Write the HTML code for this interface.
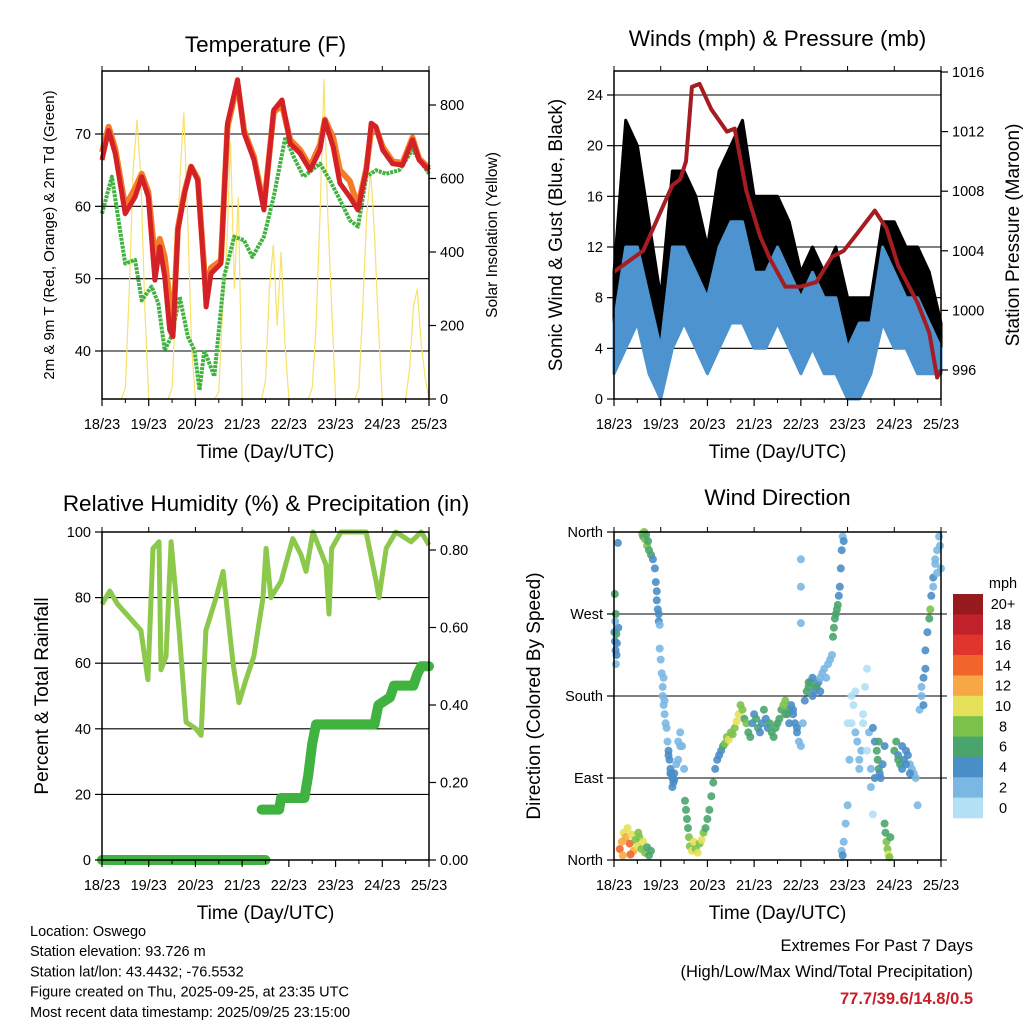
<!DOCTYPE html>
<html><head><meta charset="utf-8"><style>
body{margin:0;background:#fff;}
svg{display:block;font-family:"Liberation Sans",Arial,sans-serif;}
</style></head><body>
<svg id="chart" width="1024" height="1024" viewBox="0 0 1024 1024" xmlns="http://www.w3.org/2000/svg"></svg>
<script>
// ===== DATA =====
const dayLabels = ["18/23","19/23","20/23","21/23","22/23","23/23","24/23","25/23"];
// Temperature (hours since start, degF)
const tempH = [0,3.4,6.8,11.9,17,20.4,23.8,27.2,29.7,32.2,34.8,36.5,39,42.4,45.8,49.2,52.6,53.5,56,61.1,64.5,69.6,73,78.1,83.2,88.2,92.5,96.7,101.8,106.9,112,114.5,118.8,122.2,127.3,131.5,135.8,138.3,140.8,144.2,149.3,154.4,159.5,162.9,168];
const temp2m = [66.4,70.5,67.3,59,61.3,64.1,61.3,49.8,54.4,50.3,42.9,42,56.7,61.8,65.5,63.6,50.3,46.1,50.7,52.1,71.5,77.5,70.1,66.4,59.5,73.3,74.7,68.7,67.3,65,67.8,71.9,68.2,63.2,61.3,59.5,65,71.5,71,67.8,65.9,65.7,69.2,66.4,65];
const temp9m = [67.5,71,68,60,62.5,64.5,62,53,55.5,53,47,43,57,62,65.5,63.8,51,47.5,51.5,52.5,71,77,70.5,66.8,60,73,74,69.2,67.8,65.5,68.5,72,69.5,65,63.5,60,65.2,70.5,70.8,68.2,66.2,66,69.5,66.6,65.3];
const dewH = [0,5.1,8.5,11.9,17,20.4,25.5,28.9,32.2,35.6,39.9,44.1,47.5,50.1,52.6,57.7,62.8,67.9,73,77.2,83.2,88.2,94.2,98.4,103.5,112,117.1,122.2,127.3,131.5,135.8,140.8,145.9,152.7,159.5,168];
const dewpt = [59,64.1,58.1,52.1,52.6,47,48.9,46.6,40.1,42,47.5,42,40.1,34.6,40.1,36.5,50.3,55.8,55.3,53,55.8,61.3,69.6,66.9,64.1,65.9,63.6,60.9,58.1,57.2,64.1,65,64.5,65,67.8,64.5];
const solarH = [];for(let i=0;i<=84;i++)solarH.push(i*2);
const solar = [0,0,0,0,0,0,30,300,620,760,600,250,
 0,0,0,0,0,0,30,280,600,780,500,150,
 0,0,0,0,0,0,20,250,400,700,300,550,
 0,0,0,0,0,0,50,300,420,200,400,150,
 0,0,0,0,0,0,30,200,500,870,500,250,
 0,0,0,0,0,0,30,250,500,620,450,200,
 0,0,0,0,0,0,0,80,250,300,150,60,0];
// Winds (mph)
const windH = [0,6,12,18,24,30,36,42,48,54,60,66,72,78,84,90,96,102,108,114,120,126,132,138,144,150,156,162,168];
const windLo = [2,4,6,2,0,4,6,4,2,4,6,6,4,4,6,4,2,4,2,2,0,0,2,6,4,4,2,2,2];
const windHi = [6,12,12,8,4,12,12,10,8,12,14,14,10,10,12,10,8,10,8,8,4,6,6,12,10,8,8,6,4];
const gustLo = [4,10,12,6,2,10,10,8,6,10,12,12,8,8,10,8,4,6,4,4,2,2,4,8,8,6,6,4,4];
const gustHi = [10,22,20,14,8,18,18,16,12,18,20,22,16,16,16,14,10,12,10,12,8,8,8,14,14,12,12,10,6];
// Pressure (mb)
const presH = [0,15,30,34,37,40,44,50,58,62,68,75,80,88,96,104,112,118,124,134,140,146,156,162,166,168];
const pres = [1002.6,1004,1008.4,1008.8,1010,1015,1015.2,1013.5,1012,1012.2,1008,1005,1003.5,1001.6,1001.6,1001.9,1003.6,1004,1005,1006.7,1005.5,1003,1000.5,998.5,995.5,996];
// Relative humidity (%)
const rhH = [0,4,8,14,20,23.6,26.2,29.3,30.3,32.9,35.5,39.6,43.2,48.3,50.9,53.4,58.6,62.2,67.3,70.4,74,78,82.7,84.3,86.8,92,98,102.3,104.8,108.4,115.1,116.6,118,122.8,135.7,140.8,142.3,146,151,158.8,164,168];
const rh = [78,82,78,74,70,55,95,97,58,62,97,70,42,40,38,70,80,88,60,48,55,62,80,95,80,85,98,93,88,100,90,75,95,100,100,85,80,95,100,97,100,96];
// Precipitation (in, cumulative); null breaks the line
const precipH = [0,84,null,82,91,92,104,106,108,110,140,142,148,150,160,162,164,168];
const precip = [0,0,null,0.13,0.13,0.16,0.16,0.22,0.30,0.35,0.35,0.40,0.42,0.45,0.45,0.48,0.50,0.50];
// Wind direction (hours, degrees, speed mph)
const dirH = [0.2,0.5,0.8,1.0,1.3,0.4,0.9,1.2,2.0,
 3,4,5,6,7,8,9,10,11,12,13,14,15,16,17,18,19,4.5,8.5,12.5,
 14.5,15,15.5,16,16.5,17,17.5,18,19,20,
 21,21.5,22,22,22.5,23,23,23.5,
 23.5,24,24.5,25,25,25.5,26,26.5,
 27,28,28.5,29,29.5,30,30.5,31,32,33,34,35,36,
 36.5,37,37.5,38,38.5,39,40,41,42,43,44,45,46,
 47,48,49,50,51,52,53,54,55,56,
 57,58,59,60,61,62,63,64,65,66,67,68,
 69,70,71,72,73,74,75,76,77,78,79,80,
 81,82,83,84,85,86,87,88,89,90,
 91,92,93,94,95,96,96,96,96,97,98,
 99,100,101,102,103,104,105,106,107,108,109,110,111,112,
 112.5,113,113.5,114,114.5,115,115.5,116,116.5,117,117.5,118,
 117,117.5,118,119,120,121,122,123,124,125,126,127,128,129,130,131,132,133,
 133,134,135,135.5,136,136.5,137,138,139,
 139,139.5,140,140.5,141,141.5,142,
 144,145,146,147,148,149,150,151,152,153,154,155,156,
 157,158,159,160,161,162,162.5,
 163,164,165,166,167,167.5,168,
 1.5,2.2,0.6,25.5,26,27.5,28,29,30,31,33,34,88,90,92,94,100,102,104,106,120,122,124,126,128,130,132,134,136,146,148,150,152,158,159,160,164,165,166];
const dirD = [250,240,230,215,225,292,270,248,348,
 12,20,30,25,35,18,28,10,22,15,25,12,20,8,14,5,10,5,6,30,
 358,355,360,352,357,345,350,340,335,330,
 320,305,295,285,275,270,262,258,
 232,220,205,190,180,170,160,150,
 145,120,110,100,95,90,85,95,105,130,140,125,100,
 65,55,45,35,25,15,10,20,12,8,18,22,30,
 35,45,55,70,85,100,110,115,120,125,
 128,135,132,140,138,145,152,160,170,165,155,150,
 140,135,150,160,155,145,140,150,165,155,145,150,
 140,135,145,150,155,165,170,175,160,165,
 170,160,150,140,130,125,330,300,260,150,175,
 185,190,195,180,185,190,195,200,205,210,200,215,220,225,
 245,255,265,270,275,280,290,300,320,340,355,350,
 10,5,20,40,60,110,150,170,185,130,100,120,160,190,210,140,80,50,
 145,130,120,110,100,95,90,105,125,
 40,30,20,12,6,3,25,
 120,130,115,105,100,110,120,115,105,100,95,90,60,
 165,180,200,210,250,265,275,
 290,310,325,340,355,345,320,
 238,255,262,200,175,130,115,95,80,88,110,125,160,150,165,145,195,200,190,185,150,180,140,110,150,120,100,90,130,110,125,105,95,190,170,230,300,330,315];
const dirS = [4,4,4,3,4,7,6,6,4,
 14,12,10,13,11,14,10,12,9,11,8,9,10,8,7,6,7,13,15,9,
 8,7,8,8,7,8,7,6,7,5,
 4,4,4,4,4,4,5,3,
 2,2,3,3,3,3,2,2,
 3,4,4,4,4,4,4,4,3,3,3,3,3,
 6,6,7,6,8,9,10,10,9,10,8,11,9,
 6,6,7,6,6,5,4,4,5,6,
 8,9,10,9,8,9,10,10,9,8,7,8,
 7,6,5,4,6,6,5,4,6,5,4,6,
 6,6,6,6,6,7,8,9,7,6,
 4,4,4,4,3,3,2,2,2,3,4,
 6,7,6,5,5,5,4,3,3,3,3,3,3,3,
 6,7,7,6,6,6,4,4,4,4,3,4,
 3,4,3,2,2,2,1,1,1,2,2,2,1,1,1,2,2,1,
 4,5,6,7,6,5,4,4,5,
 6,7,8,9,10,9,7,
 6,6,5,6,5,4,4,4,3,3,3,2,2,
 3,3,4,4,5,7,8,
 4,4,3,3,3,3,2,
 4,4,3,2,2,3,4,4,4,4,3,3,6,4,4,4,6,5,6,5,1,1,2,2,1,1,2,5,6,6,5,5,4,3,4,4,3,3,3];
const speedLabels = ["20+","18","16","14","12","10","8","6","4","2","0"];
const speedColors = ["#b3e0f5","#7ab8e3","#4a8ec7","#4aa56d","#7cc24a","#e5e05a","#f7a844","#f1652a","#e0352c","#c0212b","#961a1e"];

// ===== HELPERS =====
const NS="http://www.w3.org/2000/svg";
const svg=document.getElementById('chart');
function mk(tag,attrs,parent){const e=document.createElementNS(NS,tag);for(const k in attrs)e.setAttribute(k,attrs[k]);(parent||svg).appendChild(e);return e;}
function txt(s,x,y,size,anchor,parent,extra){const t=mk('text',Object.assign({x:x,y:y,'font-size':size,'text-anchor':anchor||'middle',fill:'#000'},extra||{}),parent);t.textContent=s;return t;}
function lin(d0,d1,r0,r1){return v=>r0+(v-d0)*(r1-r0)/(d1-d0);}
function pathFrom(xs,ys,sx,sy){let d='',pen=false;for(let i=0;i<xs.length;i++){if(xs[i]===null){pen=false;continue;}d+=(pen?'L':'M')+sx(xs[i]).toFixed(1)+','+sy(ys[i]).toFixed(1);pen=true;}return d;}

function panel(name){
  const g=mk('g',{});
  
  
  return g;
}
function frameAndXAxis(g,L,T,R,B,sx){
  const ax=mk('g',{},g);
  
  
  for(let d=0;d<=7;d++){const x=sx(d*24);
    mk('line',{x1:x,y1:B,x2:x,y2:B+7,stroke:'#000','stroke-width':1.2},ax);
    mk('line',{x1:x,y1:T,x2:x,y2:T-5,stroke:'#000','stroke-width':1},ax);
    const t=txt(dayLabels[d],x,B+30,14.5,'middle',ax);
    
    
    if(d<7){const xm=sx(d*24+12);mk('line',{x1:xm,y1:B,x2:xm,y2:B+4,stroke:'#000','stroke-width':1},ax);}
  }
  const xt=txt('Time (Day/UTC)',(L+R)/2,B+59,19,'middle',ax);
  
  
}
function frame(g,L,T,R,B){mk('rect',{x:L,y:T,width:R-L,height:B-T,fill:'none',stroke:'#000','stroke-width':1.5},g);}
function yAxis(g,vals,labels,sy,x,side,name){
  const ax=mk('g',{},g);
  
  
  const dir=side==='left'?-1:1;
  vals.forEach((v,i)=>{const y=sy(v);
    mk('line',{x1:x,y1:y,x2:x+dir*7,y2:y,stroke:'#000','stroke-width':1.2},ax);
    txt(labels[i],x+dir*11,y+5,14.5,side==='left'?'end':'start',ax);
  });
  return ax;
}
function grid(g,vals,sy,L,R){vals.forEach(v=>{mk('line',{x1:L,y1:sy(v),x2:R,y2:sy(v),stroke:'#000','stroke-width':1.1},g);});}
function rotTitle(g,s,x,y,size,name){const t=txt(s,x,y,size,'middle',g,{transform:`rotate(-90 ${x} ${y})`});}

// ===== PANEL 1: TEMPERATURE =====
(function(){
  const L=102,T=71,R=429,B=399;
  const g=panel('temperature-panel');
  const sx=lin(0,168,L,R), sy=lin(40,70,351,134), ss=lin(0,800,399,105);
  const t=txt('Temperature (F)',(L+R)/2,52,22.5,'middle',g);
  grid(g,[40,50,60,70],sy,L,R);
  const sol=mk('path',{d:pathFrom(solarH,solar,sx,ss),fill:'none',stroke:'#f7e26a','stroke-width':1.2},g);
  
  const dp=mk('path',{d:pathFrom(dewH,dewpt,sx,sy),fill:'none',stroke:'#3fb23f','stroke-width':4,'stroke-dasharray':'3 1','stroke-linejoin':'round'},g);
  
  const o=mk('path',{d:pathFrom(tempH,temp9m,sx,sy),fill:'none',stroke:'#f47b27','stroke-width':6,'stroke-linejoin':'round'},g);
  
  const r=mk('path',{d:pathFrom(tempH,temp2m,sx,sy),fill:'none',stroke:'#d42027','stroke-width':5,'stroke-linejoin':'round'},g);
  
  frame(g,L,T,R,B);
  yAxis(g,[40,50,60,70],['40','50','60','70'],sy,L,'left','y-axis-left');
  yAxis(g,[0,200,400,600,800],['0','200','400','600','800'],ss,R,'right','y-axis-right');
  frameAndXAxis(g,L,T,R,B,sx);
  rotTitle(g,'2m & 9m T (Red, Orange) & 2m Td (Green)',54,235,15,'y-axis-title-left');
  rotTitle(g,'Solar Insolation (Yellow)',497,235,15.5,'y-axis-title-right');
})();

// ===== PANEL 2: WINDS =====
(function(){
  const L=614,T=71,R=941,B=399;
  const g=panel('winds-panel');
  const sx=lin(0,168,L,R), sy=lin(0,24,399,95), sp=lin(996,1016,370,72);
  const t=txt('Winds (mph) & Pressure (mb)',(L+R)/2,46,22.5,'middle',g);
  grid(g,[4,8,12,16,20,24],sy,L,R);
  function band(lo,hi,col,name){let d='';windH.forEach((h,i)=>{d+=(i?'L':'M')+sx(h).toFixed(1)+','+sy(hi[i]).toFixed(1);});
    for(let i=windH.length-1;i>=0;i--)d+='L'+sx(windH[i]).toFixed(1)+','+sy(lo[i]).toFixed(1);d+='Z';
    const p=mk('path',{d:d,fill:col,stroke:col,'stroke-width':3,'stroke-linejoin':'round'},g);}
  band(gustLo,gustHi,'#000','gust-band');
  band(windLo,windHi,'#4c93cf','wind-band');
  const p=mk('path',{d:pathFrom(presH,pres,sx,sp),fill:'none',stroke:'#a51d22','stroke-width':4,'stroke-linejoin':'round'},g);
  
  frame(g,L,T,R,B);
  yAxis(g,[0,4,8,12,16,20,24],['0','4','8','12','16','20','24'],sy,L,'left','y-axis-left');
  yAxis(g,[996,1000,1004,1008,1012,1016],['996','1000','1004','1008','1012','1016'],sp,R,'right','y-axis-right');
  frameAndXAxis(g,L,T,R,B,sx);
  rotTitle(g,'Sonic Wind & Gust (Blue, Black)',562,235,19,'y-axis-title-left');
  rotTitle(g,'Station Pressure (Maroon)',1019,235,19,'y-axis-title-right');
})();

// ===== PANEL 3: RH & PRECIP =====
(function(){
  const L=102,T=532,R=429,B=860;
  const g=panel('humidity-precip-panel');
  const sx=lin(0,168,L,R), sy=lin(0,100,860,532), sp=lin(0,0.8,860,550);
  const t=txt('Relative Humidity (%) & Precipitation (in)',266,511,22.5,'middle',g);
  grid(g,[20,40,60,80],sy,L,R);
  const r=mk('path',{d:pathFrom(rhH,rh,sx,sy),fill:'none',stroke:'#8cc84b','stroke-width':5,'stroke-linejoin':'round'},g);
  
  const p=mk('path',{d:pathFrom(precipH,precip,sx,sp),fill:'none',stroke:'#3fb23f','stroke-width':10,'stroke-linejoin':'round','stroke-linecap':'round'},g);
  
  frame(g,L,T,R,B);
  yAxis(g,[0,20,40,60,80,100],['0','20','40','60','80','100'],sy,L,'left','y-axis-left');
  yAxis(g,[0,0.2,0.4,0.6,0.8],['0.00','0.20','0.40','0.60','0.80'],sp,R,'right','y-axis-right');
  frameAndXAxis(g,L,T,R,B,sx);
  rotTitle(g,'Percent & Total Rainfall',48,696,19,'y-axis-title-left');
})();

// ===== PANEL 4: WIND DIRECTION =====
(function(){
  const L=614,T=532,R=941,B=860;
  const g=panel('wind-direction-panel');
  const sx=lin(0,168,L,R), sy=lin(0,360,860,532);
  const t=txt('Wind Direction',(L+R)/2,505,22.5,'middle',g);
  grid(g,[90,180,270],sy,L,R);
  const pts=mk('g',{'fill-opacity':0.9},g);
  
  for(let i=0;i<dirH.length;i++){
    const ci=Math.max(0,Math.min(10,Math.floor(dirS[i]/2)));
    const c=mk('circle',{cx:sx(dirH[i]).toFixed(1),cy:sy(dirD[i]).toFixed(1),r:4,fill:speedColors[ci]},pts);
    
    
  }
  frame(g,L,T,R,B);
  yAxis(g,[0,90,180,270,360],['North','East','South','West','North'],sy,L,'left','y-axis-left');
  [0,90,180,270,360].forEach(v=>mk('line',{x1:R,y1:sy(v),x2:R+6,y2:sy(v),stroke:'#000'},g));
  frameAndXAxis(g,L,T,R,B,sx);
  rotTitle(g,'Direction (Colored By Speed)',540,696,19,'y-axis-title-left');
  const cb=mk('g',{},g);
  
  const bh=(818-594)/11;
  txt('mph',1003,588,14.5,'middle',cb);
  speedLabels.forEach((lab,i)=>{
    const y=594+i*bh;
    const rct=mk('rect',{x:953,y:y,width:30,height:bh+0.3,fill:speedColors[10-i]},cb);
    
    txt(lab,1003,y+bh/2+5,14.5,'middle',cb);
  });
})();

// ===== FOOTER TEXT =====
(function(){
  const g=mk('g',{});
  
  const lines=['Location: Oswego','Station elevation: 93.726 m','Station lat/lon: 43.4432; -76.5532','Figure created on Thu, 2025-09-25, at 23:35 UTC','Most recent data timestamp: 2025/09/25 23:15:00'];
  lines.forEach((s,i)=>txt(s,30,936+i*20.2,14.5,'start',g));
  const e=mk('g',{});
  
  txt('Extremes For Past 7 Days',973,951,16.5,'end',e);
  txt('(High/Low/Max Wind/Total Precipitation)',973,977,16.5,'end',e);
  txt('77.7/39.6/14.8/0.5',973,1004,16.5,'end',e,{fill:'#c8202a','font-weight':'bold'});
})();
</script>
</body></html>
